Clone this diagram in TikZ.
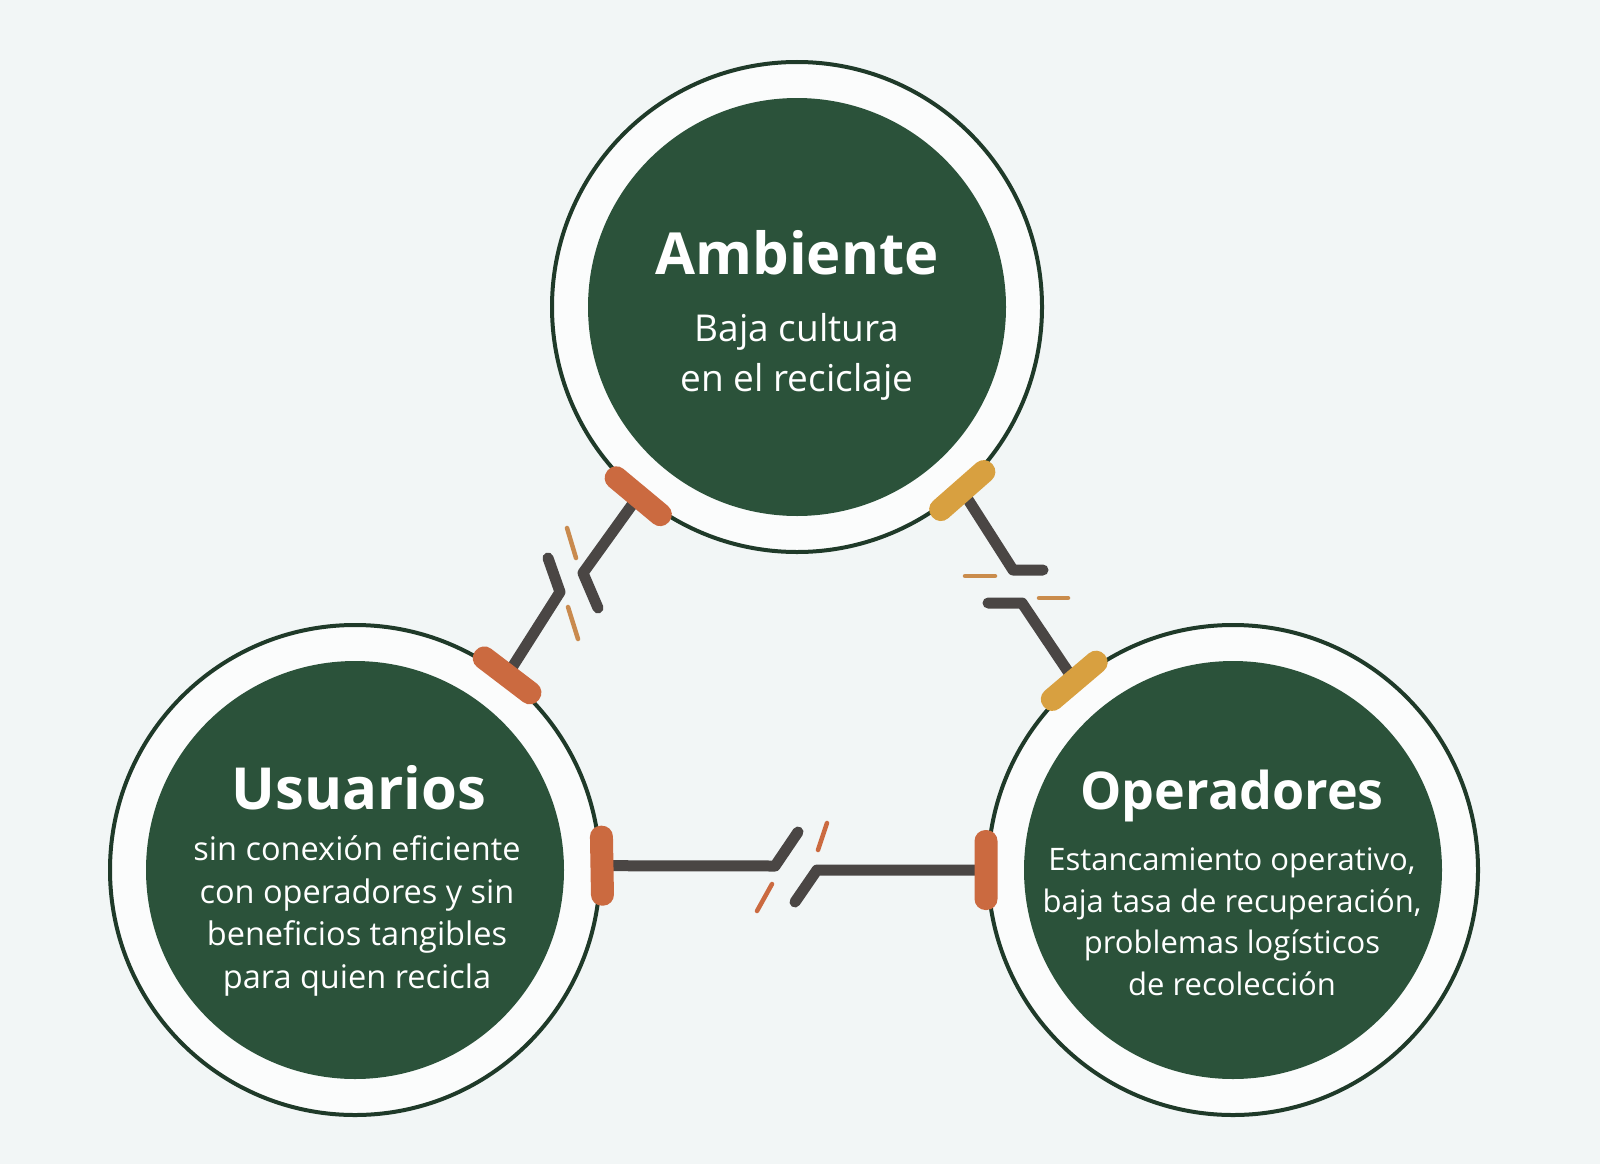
\documentclass[tikz,border=0pt]{standalone}
\usepackage{fontspec}
\setmainfont{Open Sans}
\usetikzlibrary{positioning}
\definecolor{verde}{HTML}{2B523A}
\definecolor{bordeverde}{HTML}{1F3A29}
\definecolor{fondo}{HTML}{F2F6F6}
\definecolor{gris}{HTML}{4A4644}
\definecolor{naranja}{HTML}{CB6A40}
\definecolor{dorado}{HTML}{D8A040}
\definecolor{ocre}{HTML}{C98A4E}

\begin{document}
\begin{tikzpicture}[x=1pt, y=-1pt]
\tikzstyle{anillo}=[circle, draw=bordeverde, line width=4pt, fill=white!70!fondo, minimum size=490pt, inner sep=0pt]
\tikzstyle{disco}=[circle, fill=verde, minimum size=418pt, inner sep=0pt]
\tikzstyle{titulo}=[text=white, font=\fontsize{58}{64}\selectfont\bfseries]
\tikzstyle{texto}=[text=white, align=center, font=\fontsize{32.5}{42.5}\selectfont]
\tikzstyle{enlace}=[draw=gris, line width=11pt, line cap=round, line join=round]
\tikzstyle{broche}=[rectangle, rounded corners=11pt, minimum width=80pt, minimum height=23pt, inner sep=0pt]
\tikzstyle{chispa}=[line width=4.5pt, line cap=round]

\fill[fondo] (0,0) rectangle (1600,1164);
\useasboundingbox (0,0) rectangle (1600,1164);

% los tres circulos
\node[anillo] (amb) at (797,307) {};
\node[anillo] (usu) at (355,870) {};
\node[anillo] (ope) at (1233,870) {};
\node[disco] at (amb) {};
\node[disco] at (usu) {};
\node[disco] at (ope) {};

\node[titulo] (amb-t) at (797,253) {Ambiente};
\node[texto, font=\fontsize{37}{50}\selectfont] (amb-d) at (797,357) {Baja cultura\\en el reciclaje};
\node[titulo] (usu-t) at (359,788) {Usuarios};
\node[texto] (usu-d) at (357,916) {sin conexión eficiente\\con operadores y sin\\beneficios tangibles\\para quien recicla};
\node[titulo, font=\fontsize{52}{60}\selectfont\bfseries] (ope-t) at (1232,796) {Operadores};
\node[texto, font=\fontsize{31}{41.5}\selectfont] (ope-d) at (1232,922) {Estancamiento operativo,\\baja tasa de recuperación,\\problemas logísticos\\de recolección};

% puntos de quiebre
\coordinate (ua-1) at (583,573);
\coordinate (ua-2) at (598,608);
\coordinate (ua-3) at (560,592);
\coordinate (ua-4) at (548,558);
\coordinate (ao-1) at (1013,570);
\coordinate (ao-2) at (1043,570);
\coordinate (ao-3) at (1022,603);
\coordinate (ao-4) at (988,603);
\coordinate (uo-1) at (775,866);
\coordinate (uo-2) at (798,832);
\coordinate (uo-3) at (817,870);
\coordinate (uo-4) at (795,902);

\draw[enlace] (amb.230.2) -- (ua-1) -- (ua-2);
\draw[enlace] (usu.52.7) -- (ua-3) -- (ua-4);
\draw[enlace] (amb.-48.7) -- (ao-1) -- (ao-2);
\draw[enlace] (ope.130.3) -- (ao-3) -- (ao-4);
\draw[enlace] (usu.1) -- (uo-1) -- (uo-2);
\draw[enlace] (ope.180) -- (uo-3) -- (uo-4);

\draw[chispa, ocre] (567,528) -- (576,558);
\draw[chispa, ocre] (568,607) -- (578,639);
\draw[chispa, ocre!90!dorado] (965,576) -- (995,576);
\draw[chispa, ocre!90!dorado] (1039,598) -- (1068,598);
\draw[chispa, naranja] (827,823) -- (818,850);
\draw[chispa, naranja] (772,884) -- (757,911);

% broches
\node[broche, fill=naranja, rotate=140.2] at (amb.230.2) {};
\node[broche, fill=naranja, rotate=142.7] at (usu.52.7) {};
\node[broche, fill=dorado, rotate=41.3] at (amb.-48.7) {};
\node[broche, fill=dorado, rotate=40.3] at (ope.130.3) {};
\node[broche, fill=naranja, rotate=91] at (usu.1) {};
\node[broche, fill=naranja, rotate=90] at (ope.180) {};
\end{tikzpicture}
\end{document}
